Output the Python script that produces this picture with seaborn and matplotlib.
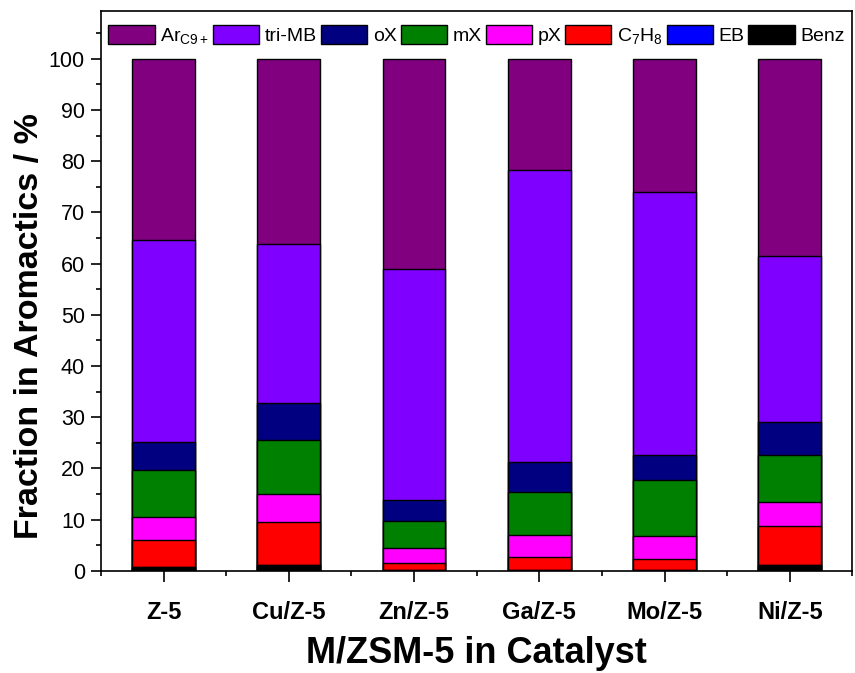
import numpy as np
import pandas as pd
import matplotlib
matplotlib.use("Agg")
import matplotlib.pyplot as plt
import seaborn as sns
from matplotlib.patches import Patch
from matplotlib.ticker import MultipleLocator

sns.set_style("ticks")
plt.rcParams['font.family'] = ['Liberation Sans', 'DejaVu Sans']
plt.rcParams['mathtext.fontset'] = 'custom'
plt.rcParams['mathtext.rm'] = 'Liberation Sans'
plt.rcParams['mathtext.it'] = 'Liberation Sans'
for k in ['text.color', 'axes.labelcolor', 'xtick.color', 'ytick.color', 'axes.edgecolor']:
    plt.rcParams[k] = 'black'

catalysts = ["Z-5", "Cu/Z-5", "Zn/Z-5", "Ga/Z-5", "Mo/Z-5", "Ni/Z-5"]

# component fractions (%) bottom to top
benz = [0.7, 1.2, 0.2, 0.2, 0.2, 1.2]
eb = [0.0, 0.0, 0.0, 0.0, 0.0, 0.0]
c7h8 = [5.3, 8.3, 1.4, 2.5, 2.1, 7.5]
px = [4.5, 5.4, 2.8, 4.2, 4.4, 4.7]
mx = [9.1, 10.7, 5.4, 8.5, 11.0, 9.2]
ox = [5.6, 7.2, 4.0, 5.9, 4.9, 6.5]
trimb = [39.4, 31.0, 45.2, 57.0, 51.4, 32.4]
arc9 = [35.4, 36.2, 41.0, 21.7, 26.0, 38.5]

series_bottom_up = [
    ("Benz", benz, "#000000"),
    ("EB", eb, "#0000FF"),
    ("C$_7$H$_8$", c7h8, "#FF0000"),
    ("pX", px, "#FF00FF"),
    ("mX", mx, "#008000"),
    ("oX", ox, "#000080"),
    ("tri-MB", trimb, "#8000FF"),
    ("Ar$_{C9+}$", arc9, "#800080"),
]

fig = plt.figure(figsize=(8.55, 6.73), dpi=100)
ax = fig.add_axes([0.118, 0.152, 0.879, 0.832])

cum = np.zeros(len(catalysts))
cums = []
for name, vals, col in series_bottom_up:
    cum = cum + np.array(vals)
    cums.append((name, cum.copy(), col))

# draw from top (largest cumulative) down so lower segments overlay
for name, c, col in reversed(cums):
    df = pd.DataFrame({"cat": catalysts, "val": c})
    sns.barplot(data=df, x="cat", y="val", color=col, saturation=1,
                width=0.5, errorbar=None, edgecolor="black", linewidth=1,
                ax=ax, zorder=2)

ax.set_xlim(-0.5, 5.5)
ax.set_ylim(0, 109.4)
ax.yaxis.set_major_locator(MultipleLocator(10))
ax.yaxis.set_minor_locator(MultipleLocator(5))
ax.set_xticks(range(len(catalysts)))
ax.set_xticks(np.arange(-0.5, 5.6, 1.0), minor=True)
ax.set_xticklabels(catalysts, fontsize=17, fontweight="bold")
ax.tick_params(axis="y", labelsize=15.5, direction="out", length=7.5, width=1.2, pad=4)
ax.tick_params(axis="x", direction="out", length=8, width=1.2, pad=14)
ax.tick_params(which="minor", direction="out", length=3.8, width=1.2)
ax.tick_params(top=False, right=False, which="both")
for sp in ax.spines.values():
    sp.set_visible(True)
    sp.set_linewidth(1.2)
    sp.set_color("black")

ax.set_xlabel("M/ZSM-5 in Catalyst", fontsize=26, fontweight="bold", labelpad=8.5)
ax.set_ylabel("Fraction in Aromactics / %", fontsize=24.5, fontweight="bold")
ax.yaxis.set_label_coords(-0.075, 0.437)

handles = [Patch(facecolor=col, edgecolor="black", linewidth=1, label=name)
           for name, _, col in reversed(series_bottom_up)]
ax.legend(handles=handles, loc="upper center", ncol=8, frameon=False,
          fontsize=14, handlelength=2.37, handleheight=1.06, handletextpad=0.3,
          columnspacing=0.2, borderaxespad=0.35, bbox_to_anchor=(0.5, 1.0))

fig.savefig("out.png", dpi=100)
